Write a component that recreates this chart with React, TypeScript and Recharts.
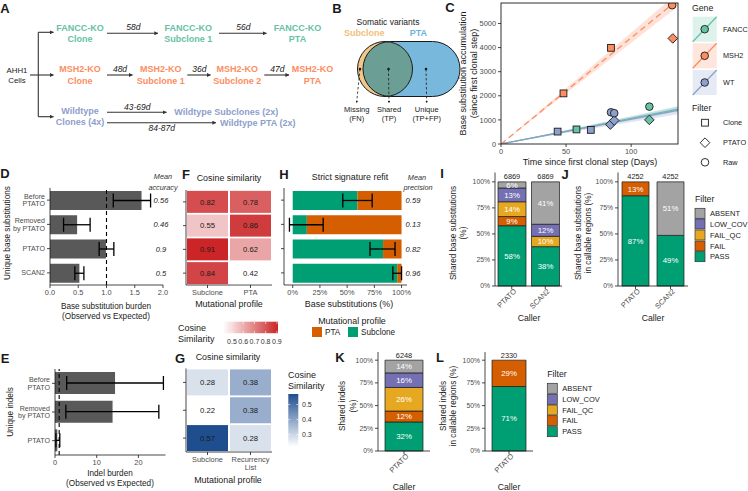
import React from 'react';
import {
  BarChart,
  Bar,
  XAxis,
  YAxis,
  ErrorBar,
  ReferenceLine,
  LabelList,
  ScatterChart,
  Scatter,
  ComposedChart,
  Line,
  Area,
} from 'recharts';

const FONT = "'Liberation Sans', Arial, Helvetica, sans-serif";

// ---------- C: base substitution accumulation ----------
const msh2Clone = [{ day: 48, subs: 2100 }, { day: 84.5, subs: 3990 }];
const msh2Ptato = [{ day: 132, subs: 4380 }];
const msh2Raw = [{ day: 131.5, subs: 5760 }];
const fanccClone = [{ day: 58, subs: 605 }];
const fanccPtato = [{ day: 114, subs: 1000 }];
const fanccRaw = [{ day: 114, subs: 1550 }];
const wtClone = [{ day: 43.5, subs: 515 }, { day: 69, subs: 585 }];
const wtPtato = [{ day: 84, subs: 805 }, { day: 87, subs: 975 }];
const wtRaw = [{ day: 84.5, subs: 1315 }, { day: 87, subs: 1280 }];
const msh2Fit = [{ day: 0, subs: 0 }, { day: 136, subs: 5990 }];
const msh2Ribbon = [{ day: 0, band: [0, 0] }, { day: 136, band: [5700, 6280] }];
const fanccFit = [{ day: 0, subs: 0 }, { day: 136, subs: 1450 }];
const fanccRibbon = [{ day: 0, band: [0, 0] }, { day: 136, band: [1340, 1560] }];
const wtFit = [{ day: 0, subs: 0 }, { day: 136, subs: 1400 }];
const wtRibbon = [{ day: 0, band: [0, 0] }, { day: 136, band: [1230, 1570] }];

// ---------- D: base substitution burden ----------
const snvCategories = ['Before\nPTATO', 'Removed\nby PTATO', 'PTATO', 'SCAN2'];
const snvBurden = [1.62, 0.48, 0.99, 0.52];
const snvLow = [1.12, 0.24, 0.87, 0.44];
const snvHigh = [1.78, 0.71, 1.13, 0.6];
const snvAccuracy = ['0.56', '0.46', '0.9', '0.5'];

// ---------- E: indel burden ----------
const indelCategories = ['Before\nPTATO', 'Removed\nby PTATO', 'PTATO'];
const indelBurden = [14.4, 13.8, 0.55];
const indelLow = [2.8, 2.6, 0.2];
const indelHigh = [26.0, 24.9, 1.15];

// ---------- F / G: cosine similarity ----------
const fProfiles = ['Subclone', 'PTA'];
const fSubclone = [0.82, 0.55, 0.91, 0.84];
const fPta = [0.78, 0.86, 0.62, 0.42];
const gProfiles = ['Subclone', 'Recurrency\nList'];
const gSubclone = [0.28, 0.22, 0.57];
const gRecurrency = [0.38, 0.38, 0.28];

// ---------- H: strict signature refit ----------
const refitSubclone = [0.595, 0.13, 0.83, 0.96];
const refitPta = [0.405, 0.87, 0.17, 0.04];
const refitLow = [0.46, -0.03, 0.71, 0.92];
const refitHigh = [0.73, 0.28, 0.94, 1.0];
const refitPrecision = ['0.59', '0.13', '0.82', '0.96'];

// ---------- I-L: shared variants by filter ----------
const callers = ['PTATO', 'SCAN2'];
const subsPass = [0.579, 0.378];
const subsFail = [0.088, 0];
const subsFailQc = [0.142, 0.099];
const subsLowCov = [0.132, 0.116];
const subsAbsent = [0.059, 0.407];
const subsTotal = [6869, 6869];
const callSubsPass = [0.867, 0.486];
const callSubsFail = [0.133, 0];
const callSubsAbsent = [0, 0.514];
const callSubsTotal = [4252, 4252];
const indelCallers = ['PTATO'];
const indelPass = [0.32];
const indelFail = [0.12];
const indelFailQc = [0.26];
const indelLowCov = [0.16];
const indelAbsent = [0.14];
const indelTotal = [6248];
const callIndelPass = [0.71];
const callIndelFail = [0.29];
const callIndelTotal = [2330];

const FILTER_KEYS = ['PASS', 'FAIL', 'FAIL_QC', 'LOW_COV', 'ABSENT'];
const FILTER_COLORS: Record<string, string> = {
  PASS: '#009E73',
  FAIL: '#D55E00',
  FAIL_QC: '#E6A820',
  LOW_COV: '#7570B3',
  ABSENT: '#A3A3A3',
};
const FANCC = '#66c2a5';
const MSH2 = '#fc8d62';
const WT = '#8da0cb';

const TICK = { fontSize: 7.4, fill: '#4d4d4d' };
const AXIS = { stroke: '#1a1a1a', strokeWidth: 0.8 };

const clamp = (t: number) => Math.max(0, Math.min(1, t));
const mix = (a: number[], b: number[], t: number) =>
  `rgb(${a.map((v, i) => Math.round(v + (b[i] - v) * t)).join(',')})`;
const redScale = (v: number) => mix([255, 255, 255], [203, 37, 39], clamp((v - 0.42) / 0.49));
const blueScale = (v: number) => mix([255, 255, 255], [31, 78, 143], clamp((v - 0.22) / 0.35));

// ---------- rows built from the arrays ----------
const snvRows = snvCategories.map((name, i) => ({
  name,
  value: snvBurden[i],
  err: [snvBurden[i] - snvLow[i], snvHigh[i] - snvBurden[i]],
  acc: snvAccuracy[i],
}));
const indelRows = indelCategories.map((name, i) => ({
  name,
  value: indelBurden[i],
  err: [indelBurden[i] - indelLow[i], indelHigh[i] - indelBurden[i]],
}));
const refitRows = snvCategories.map((name, i) => ({
  name,
  Subclone: refitSubclone[i],
  PTA: refitPta[i],
  err: [refitSubclone[i] - refitLow[i], refitHigh[i] - refitSubclone[i]],
  prec: refitPrecision[i],
}));
const fCells = fSubclone.flatMap((v, r) => [
  { col: 0, row: r, value: v },
  { col: 1, row: r, value: fPta[r] },
]);
const gCells = gSubclone.flatMap((v, r) => [
  { col: 0, row: r, value: v },
  { col: 1, row: r, value: gRecurrency[r] },
]);
const iRows = callers.map((caller, i) => ({
  caller,
  PASS: subsPass[i],
  FAIL: subsFail[i],
  FAIL_QC: subsFailQc[i],
  LOW_COV: subsLowCov[i],
  ABSENT: subsAbsent[i],
  total: subsTotal[i],
}));
const jRows = callers.map((caller, i) => ({
  caller,
  PASS: callSubsPass[i],
  FAIL: callSubsFail[i],
  FAIL_QC: 0,
  LOW_COV: 0,
  ABSENT: callSubsAbsent[i],
  total: callSubsTotal[i],
}));
const kRows = indelCallers.map((caller, i) => ({
  caller,
  PASS: indelPass[i],
  FAIL: indelFail[i],
  FAIL_QC: indelFailQc[i],
  LOW_COV: indelLowCov[i],
  ABSENT: indelAbsent[i],
  total: indelTotal[i],
}));
const lRows = indelCallers.map((caller, i) => ({
  caller,
  PASS: callIndelPass[i],
  FAIL: callIndelFail[i],
  FAIL_QC: 0,
  LOW_COV: 0,
  ABSENT: 0,
  total: callIndelTotal[i],
}));

// ---------- small render helpers ----------
const CatTick = (props: any) => {
  const { x, y, payload } = props;
  const lines = String(payload.value).split('\n');
  const lh = 7.6;
  const y0 = y - ((lines.length - 1) * lh) / 2;
  return (
    <text x={x} y={y0} textAnchor="end" fontSize={7.1} fill="#4d4d4d">
      {lines.map((l, i) => (
        <tspan key={i} x={x} dy={i === 0 ? '0.35em' : lh}>
          {l}
        </tspan>
      ))}
    </text>
  );
};

const RotTick = (props: any) => {
  const { x, y, payload } = props;
  return (
    <text x={x} y={y} transform={`rotate(-45 ${x} ${y})`} textAnchor="end" dy="0.55em" dx={3} fontSize={7.4} fill="#4d4d4d">
      {payload.value}
    </text>
  );
};

const heatTick = (labels: string[]) => (props: any) => {
  const { x, y, payload } = props;
  const lines = labels[payload.value].split('\n');
  return (
    <text x={x} y={y} textAnchor="middle" fontSize={7.4} fill="#4d4d4d">
      {lines.map((l, i) => (
        <tspan key={i} x={x} dy={i === 0 ? '0.71em' : '1.1em'}>
          {l}
        </tspan>
      ))}
    </text>
  );
};

const noteLabel = (x: number) => (p: any) => (
  <text x={x} y={p.y + p.height / 2} dy="0.35em" textAnchor="middle" fontSize={7.6} fontStyle="italic" fill="#1a1a1a">
    {p.value}
  </text>
);

const pctLabel = (p: any) => {
  const { x, y, width, height, value } = p;
  if (!value || value < 0.03) return null;
  return (
    <text x={x + width / 2} y={y + height / 2} dy="0.35em" textAnchor="middle" fontSize={7.8} fill="#fff">
      {Math.round(value * 100)}%
    </text>
  );
};

// the total sits above the highest non-empty segment of each stack
const topKey = (row: any) => [...FILTER_KEYS].reverse().find((k) => row[k] > 0);
const totalFor = (key: string) => (row: any) => (topKey(row) === key ? row.total : null);
const totalLabel = (p: any) => {
  if (p.value === null || p.value === undefined || p.value === '') return null;
  return (
    <text x={p.x + p.width / 2} y={p.y - 2.5} textAnchor="middle" fontSize={7.4} fill="#1a1a1a">
      {p.value}
    </text>
  );
};

const heatShape = (w: number, h: number, colorFn: (v: number) => string) => (p: any) => {
  const { cx, cy, payload } = p;
  return (
    <g>
      <rect x={cx - w / 2} y={cy - h / 2} width={w} height={h} fill={colorFn(payload.value)} />
      <text x={cx} y={cy} dy="0.35em" textAnchor="middle" fontSize={7.7} fill="#1a1a1a">
        {payload.value.toFixed(2)}
      </text>
    </g>
  );
};

const pointShape = (kind: string, fill: string) => (p: any) => {
  const { cx, cy } = p;
  if (kind === 'square')
    return <rect x={cx - 3.4} y={cy - 3.4} width={6.8} height={6.8} fill={fill} stroke="#1a1a1a" strokeWidth={0.9} />;
  if (kind === 'diamond')
    return (
      <polygon
        points={`${cx},${cy - 4.8} ${cx + 4.8},${cy} ${cx},${cy + 4.8} ${cx - 4.8},${cy}`}
        fill={fill}
        stroke="#1a1a1a"
        strokeWidth={0.9}
      />
    );
  return <circle cx={cx} cy={cy} r={3.8} fill={fill} stroke="#1a1a1a" strokeWidth={0.9} />;
};

const pct = (v: number) => `${Math.round(v * 100)}%`;

const Pos: React.FC<{ x: number; y: number; children: React.ReactNode }> = ({ x, y, children }) => (
  <div style={{ position: 'absolute', left: x, top: y }}>{children}</div>
);

// ---------- charts ----------
const AccumulationChart = () => (
  <ComposedChart width={245} height={170} margin={{ top: 3, right: 7, bottom: 6, left: 0 }}>
    <XAxis type="number" dataKey="day" domain={[0, 136]} ticks={[0, 50, 100]} height={20} allowDataOverflow tick={TICK} tickSize={3} axisLine={false} tickLine={AXIS} />
    <YAxis type="number" dataKey="subs" domain={[0, 5850]} ticks={[0, 1000, 2000, 3000, 4000, 5000]} width={61} allowDataOverflow tick={TICK} tickSize={3} axisLine={false} tickLine={AXIS} />
    <Area data={wtRibbon} dataKey="band" type="linear" stroke="none" fill={WT} fillOpacity={0.28} isAnimationActive={false} />
    <Area data={fanccRibbon} dataKey="band" type="linear" stroke="none" fill={FANCC} fillOpacity={0.2} isAnimationActive={false} />
    <Area data={msh2Ribbon} dataKey="band" type="linear" stroke="none" fill={MSH2} fillOpacity={0.25} isAnimationActive={false} />
    <Line data={fanccFit} dataKey="subs" type="linear" stroke={FANCC} strokeWidth={1.3} dot={false} isAnimationActive={false} />
    <Line data={wtFit} dataKey="subs" type="linear" stroke={WT} strokeWidth={1.3} dot={false} isAnimationActive={false} />
    <Line data={msh2Fit} dataKey="subs" type="linear" stroke={MSH2} strokeWidth={1.3} strokeDasharray="6 4" dot={false} isAnimationActive={false} />
    <Scatter data={wtClone} dataKey="subs" shape={pointShape('square', WT)} isAnimationActive={false} />
    <Scatter data={wtPtato} dataKey="subs" shape={pointShape('diamond', WT)} isAnimationActive={false} />
    <Scatter data={wtRaw} dataKey="subs" shape={pointShape('circle', WT)} isAnimationActive={false} />
    <Scatter data={fanccClone} dataKey="subs" shape={pointShape('square', FANCC)} isAnimationActive={false} />
    <Scatter data={fanccPtato} dataKey="subs" shape={pointShape('diamond', FANCC)} isAnimationActive={false} />
    <Scatter data={fanccRaw} dataKey="subs" shape={pointShape('circle', FANCC)} isAnimationActive={false} />
    <Scatter data={msh2Clone} dataKey="subs" shape={pointShape('square', MSH2)} isAnimationActive={false} />
    <Scatter data={msh2Ptato} dataKey="subs" shape={pointShape('diamond', MSH2)} isAnimationActive={false} />
    <Scatter data={msh2Raw} dataKey="subs" shape={pointShape('circle', MSH2)} isAnimationActive={false} />
  </ComposedChart>
);

const BurdenChart = () => (
  <BarChart width={180} height={150} data={snvRows} layout="vertical" margin={{ top: 18, right: 17, bottom: 5, left: 0 }}>
    <XAxis type="number" domain={[0, 2]} ticks={[0, 0.5, 1, 1.5, 2]} tickFormatter={(v: number) => v.toFixed(1)} height={30} tick={TICK} tickSize={3} axisLine={AXIS} tickLine={AXIS} />
    <YAxis type="category" dataKey="name" width={50} tick={<CatTick />} tickSize={3} interval={0} axisLine={AXIS} tickLine={AXIS} />
    <Bar dataKey="value" fill="#595959" barSize={19} isAnimationActive={false}>
      <ErrorBar dataKey="err" direction="x" width={7} stroke="#000" strokeWidth={1.3} />
      <LabelList dataKey="acc" content={noteLabel(161)} />
    </Bar>
    <ReferenceLine x={1} stroke="#000" strokeDasharray="4 3" strokeWidth={1.1} />
  </BarChart>
);

const IndelChart = () => (
  <BarChart width={180} height={131} data={indelRows} layout="vertical" margin={{ top: 9, right: 14.5, bottom: 6, left: 0 }}>
    <XAxis type="number" domain={[0, 26.5]} ticks={[0, 10, 20]} height={30} tick={TICK} tickSize={3} axisLine={AXIS} tickLine={AXIS} />
    <YAxis type="category" dataKey="name" width={55} tick={<CatTick />} tickSize={3} interval={0} axisLine={AXIS} tickLine={AXIS} />
    <Bar dataKey="value" fill="#595959" barSize={22} isAnimationActive={false}>
      <ErrorBar dataKey="err" direction="x" width={7} stroke="#000" strokeWidth={1.3} />
    </Bar>
    <ReferenceLine x={1} stroke="#000" strokeDasharray="4 3" strokeWidth={1.1} />
  </BarChart>
);

const HeatChart = ({ cells, labels, rows, height, top, bottom, cellH, colorFn }: any) => (
  <ScatterChart width={100} height={height} margin={{ top, right: 4, bottom, left: 0 }}>
    <XAxis type="number" dataKey="col" domain={[-0.5, 1.5]} ticks={[0, 1]} interval={0} height={30} tick={heatTick(labels)} tickSize={3} axisLine={AXIS} tickLine={AXIS} />
    <YAxis type="number" dataKey="row" domain={[-0.5, rows - 0.5]} ticks={Array.from({ length: rows }, (_, i) => i)} reversed width={10} tickFormatter={() => ''} tickSize={3} interval={0} axisLine={AXIS} tickLine={AXIS} />
    <Scatter data={cells} shape={heatShape(41, cellH, colorFn)} isAnimationActive={false} />
  </ScatterChart>
);

const RefitChart = () => (
  <BarChart width={165} height={150} data={refitRows} layout="vertical" margin={{ top: 18, right: 28, bottom: 5, left: 0 }}>
    <XAxis type="number" domain={[-0.08, 1.05]} ticks={[0, 0.25, 0.5, 0.75, 1]} tickFormatter={pct} height={30} tick={TICK} tickSize={3} axisLine={AXIS} tickLine={AXIS} />
    <YAxis type="category" dataKey="name" width={14} tickFormatter={() => ''} tickSize={3} interval={0} axisLine={AXIS} tickLine={AXIS} />
    <Bar dataKey="Subclone" stackId="r" fill="#009E73" barSize={19} isAnimationActive={false}>
      <ErrorBar dataKey="err" direction="x" width={7} stroke="#000" strokeWidth={1.3} />
    </Bar>
    <Bar dataKey="PTA" stackId="r" fill="#D55E00" barSize={19} isAnimationActive={false}>
      <LabelList dataKey="prec" content={noteLabel(143)} />
    </Bar>
  </BarChart>
);

const FilterChart = ({ rows, width, height, margin, yWidth, barSize }: any) => (
  <BarChart width={width} height={height} data={rows} margin={margin}>
    <XAxis type="category" dataKey="caller" height={35} tick={<RotTick />} tickSize={3} interval={0} axisLine={AXIS} tickLine={AXIS} />
    <YAxis type="number" domain={[0, 1.09]} ticks={[0, 0.25, 0.5, 0.75, 1]} tickFormatter={pct} width={yWidth} tick={{ ...TICK, fontSize: 6.8 }} tickSize={3} axisLine={AXIS} tickLine={AXIS} />
    {FILTER_KEYS.map((k) => (
      <Bar key={k} dataKey={k} stackId="s" fill={FILTER_COLORS[k]} stroke="#1a1a1a" strokeWidth={0.7} barSize={barSize} isAnimationActive={false}>
        <LabelList dataKey={k} content={pctLabel} />
        <LabelList dataKey={totalFor(k)} content={totalLabel} />
      </Bar>
    ))}
  </BarChart>
);

// ---------- static annotations ----------
const T = ({ x, y, s = 8, a = 'middle', b, it, fill = '#1a1a1a', rot, children }: any) => (
  <text
    x={x}
    y={y}
    dy="0.35em"
    fontSize={s}
    textAnchor={a}
    fontWeight={b ? 'bold' : undefined}
    fontStyle={it ? 'italic' : undefined}
    fill={fill}
    transform={rot ? `rotate(${rot} ${x} ${y})` : undefined}
  >
    {children}
  </text>
);

const Arrow = ({ x1, y1, x2, y2 }: any) => (
  <line x1={x1} y1={y1} x2={x2} y2={y2} stroke="#333" strokeWidth={1.1} markerEnd="url(#ah)" />
);

const FilterLegend = ({ x, y, ys }: any) => (
  <g>
    <T x={x} y={y} s={8.7} a="start">Filter</T>
    {['ABSENT', 'LOW_COV', 'FAIL_QC', 'FAIL', 'PASS'].map((k, i) => (
      <g key={k}>
        <rect x={x} y={ys[i] - 5} width={10} height={10} fill={FILTER_COLORS[k]} stroke="#333" strokeWidth={0.7} />
        <T x={x + 15} y={ys[i]} s={7.5} a="start">{k}</T>
      </g>
    ))}
  </g>
);

const Overlay = () => (
  <svg width={748} height={491} style={{ position: 'absolute', left: 0, top: 0, pointerEvents: 'none', fontFamily: FONT }}>
    <defs>
      <marker id="ah" viewBox="0 0 6 6" refX="5.5" refY="3" markerWidth="3.6" markerHeight="3.6" orient="auto">
        <path d="M0,0 L6,3 L0,6 z" fill="#333" />
      </marker>
      <marker id="ah2" viewBox="0 0 6 6" refX="3" refY="3" markerWidth="3" markerHeight="3" orient="auto">
        <path d="M0,0 L6,3 L0,6 z" fill="#222" />
      </marker>
      <linearGradient id="redg" x1="0" x2="1" y1="0" y2="0">
        <stop offset="0" stopColor="#ffffff" />
        <stop offset="1" stopColor="rgb(203,37,39)" />
      </linearGradient>
      <linearGradient id="blueg" x1="0" x2="0" y1="1" y2="0">
        <stop offset="0" stopColor="#ffffff" />
        <stop offset="1" stopColor="rgb(31,78,143)" />
      </linearGradient>
      <clipPath id="capsule">
        <rect x={363} y={41.5} width={97} height={55} rx={27.5} />
      </clipPath>
    </defs>

    {/* panel letters */}
    <T x={5} y={8} s={13} b>A</T>
    <T x={337} y={8} s={13} b>B</T>
    <T x={450} y={7} s={13} b>C</T>
    <T x={5} y={173} s={13} b>D</T>
    <T x={5} y={358} s={13} b>E</T>
    <T x={186} y={174} s={13} b>F</T>
    <T x={180} y={358} s={13} b>G</T>
    <T x={284} y={174} s={13} b>H</T>
    <T x={442} y={173} s={13} b>I</T>
    <T x={565} y={174} s={13} b>J</T>
    <T x={340} y={357} s={13} b>K</T>
    <T x={440} y={357} s={13} b>L</T>

    {/* A: experimental design */}
    <T x={17} y={70} s={7.8}>AHH1</T>
    <T x={17} y={80.5} s={7.8}>Cells</T>
    <line x1={38.3} y1={32.3} x2={38.3} y2={116.7} stroke="#333" strokeWidth={1.1} />
    <Arrow x1={30} y1={75} x2={53.5} y2={75} />
    <Arrow x1={38.3} y1={32.3} x2={53.5} y2={32.3} />
    <Arrow x1={38.3} y1={116.7} x2={53.5} y2={116.7} />
    <T x={80} y={27.7} s={9} b fill={FANCC}>FANCC-KO</T>
    <T x={80} y={39} s={9} b fill={FANCC}>Clone</T>
    <Arrow x1={107} y1={33.3} x2={158} y2={33.3} />
    <T x={133.3} y={26.7} s={8.5} it>58d</T>
    <T x={188.3} y={27.7} s={9} b fill={FANCC}>FANCC-KO</T>
    <T x={188.3} y={39} s={9} b fill={FANCC}>Subclone 1</T>
    <Arrow x1={219} y1={33.3} x2={266.5} y2={33.3} />
    <T x={243.3} y={26.7} s={8.5} it>56d</T>
    <T x={297.5} y={27.7} s={9} b fill={FANCC}>FANCC-KO</T>
    <T x={297.5} y={39} s={9} b fill={FANCC}>PTA</T>

    <T x={80} y={69.3} s={9} b fill={MSH2}>MSH2-KO</T>
    <T x={80} y={80.7} s={9} b fill={MSH2}>Clone</T>
    <Arrow x1={107} y1={75} x2={132.5} y2={75} />
    <T x={120} y={69.5} s={8.5} it>48d</T>
    <T x={160.7} y={69.3} s={9} b fill={MSH2}>MSH2-KO</T>
    <T x={160.7} y={80.7} s={9} b fill={MSH2}>Subclone 1</T>
    <Arrow x1={187.3} y1={75} x2={210.5} y2={75} />
    <T x={199.3} y={69.5} s={8.5} it>36d</T>
    <T x={237.3} y={69.3} s={9} b fill={MSH2}>MSH2-KO</T>
    <T x={237.3} y={80.7} s={9} b fill={MSH2}>Subclone 2</T>
    <Arrow x1={264.3} y1={75} x2={289} y2={75} />
    <T x={277.3} y={69.5} s={8.5} it>47d</T>
    <T x={312.5} y={69.3} s={9} b fill={MSH2}>MSH2-KO</T>
    <T x={312.5} y={80.7} s={9} b fill={MSH2}>PTA</T>

    <T x={80} y={110.7} s={9} b fill={WT}>Wildtype</T>
    <T x={80} y={121.7} s={9} b fill={WT}>Clones (4x)</T>
    <Arrow x1={107} y1={112.3} x2={166.5} y2={112.3} />
    <T x={137.3} y={107.5} s={8.5} it>43-69d</T>
    <T x={174.3} y={111.7} s={9} b a="start" fill={WT}>Wildtype Subclones (2x)</T>
    <Arrow x1={107} y1={122.7} x2={216} y2={122.7} />
    <T x={161.7} y={128} s={8.5} it>84-87d</T>
    <T x={220} y={122.7} s={9} b a="start" fill={WT}>Wildtype PTA (2x)</T>

    {/* B: venn of somatic variants */}
    <T x={388} y={21.7} s={8.5}>Somatic variants</T>
    <T x={364.3} y={33.3} s={9} b fill="#f2c07a">Subclone</T>
    <T x={418.3} y={33.3} s={9} b fill="#6eb3dc">PTA</T>
    <rect x={363} y={41.5} width={97} height={55} rx={27.5} fill="#79b8dd" />
    <circle cx={385} cy={69} r={27.5} fill="#f1c88a" />
    <circle cx={385} cy={69} r={27.5} fill="#6b9f96" clipPath="url(#capsule)" />
    <circle cx={385} cy={69} r={27.5} fill="none" stroke="#1a1a1a" strokeWidth={1} />
    <rect x={363} y={41.5} width={97} height={55} rx={27.5} fill="none" stroke="#1a1a1a" strokeWidth={1} />
    {[
      [360, 356.7, 'Missing', '(FN)'],
      [388.5, 389, 'Shared', '(TP)'],
      [426, 426.7, 'Unique', '(TP+FP)'],
    ].map(([dx, lx, l1, l2]: any) => (
      <g key={l1}>
        <circle cx={dx} cy={69} r={1.3} fill="#1a1a1a" />
        <line x1={dx} y1={69} x2={lx} y2={102} stroke="#1a1a1a" strokeWidth={0.8} strokeDasharray="2.5 2" markerEnd="url(#ah2)" />
        <T x={lx} y={109.3} s={7.5}>{l1}</T>
        <T x={lx} y={118.5} s={7.5}>{l2}</T>
      </g>
    ))}

    {/* C: frame, titles, legend */}
    <rect x={501} y={3} width={177} height={141} fill="none" stroke="#1a1a1a" strokeWidth={0.9} />
    <T x={463.3} y={73.5} s={9} rot={-90}>Base substitution accumulation</T>
    <T x={473.5} y={73.5} s={9} rot={-90}>(since first clonal step)</T>
    <T x={590} y={161.7} s={9}>Time since first clonal step (Days)</T>
    <T x={692} y={7.5} s={8.7} a="start">Gene</T>
    {[
      [FANCC, 16.7, 'FANCC'],
      [MSH2, 43.3, 'MSH2'],
      [WT, 70, 'WT'],
    ].map(([c, y, l]: any) => (
      <g key={l}>
        <rect x={692.7} y={y} width={24} height={25} fill={c} fillOpacity={0.22} />
        <line x1={692.7} y1={y + 25} x2={716.7} y2={y} stroke={c} strokeWidth={1.3} />
        <circle cx={704.7} cy={y + 12.5} r={3.8} fill={c} stroke="#1a1a1a" strokeWidth={0.9} />
        <T x={723} y={y + 12.5} s={7.3} a="start">{l}</T>
      </g>
    ))}
    <T x={692} y={108.3} s={8.7} a="start">Filter</T>
    <rect x={701.6} y={119.3} width={6.8} height={6.8} fill="#fff" stroke="#1a1a1a" strokeWidth={0.9} />
    <polygon points="705,137.9 709.8,142.7 705,147.5 700.2,142.7" fill="#fff" stroke="#1a1a1a" strokeWidth={0.9} />
    <circle cx={705} cy={162.3} r={3.8} fill="#fff" stroke="#1a1a1a" strokeWidth={0.9} />
    <T x={723} y={122.7} s={7.3} a="start">Clone</T>
    <T x={723} y={142.7} s={7.3} a="start">PTATO</T>
    <T x={723} y={162.3} s={7.3} a="start">Raw</T>

    {/* D / E titles */}
    <T x={7.5} y={233} s={8.2} rot={-90}>Unique base substitutions</T>
    <T x={106} y={306} s={8.2}>Base substitution burden</T>
    <T x={106} y={316} s={8.2}>(Observed vs Expected)</T>
    <T x={163} y={176.7} s={7.3} it fill="#333">Mean</T>
    <T x={163} y={187.3} s={7.3} it fill="#333">accuracy</T>
    <T x={10.5} y={412} s={8.2} rot={-90}>Unique indels</T>
    <T x={110} y={473.3} s={8.2}>Indel burden</T>
    <T x={110} y={483.3} s={8.2}>(Observed vs Expected)</T>

    {/* F */}
    <T x={229} y={178.3} s={8.9}>Cosine similarity</T>
    <T x={229} y={304.3} s={8.9}>Mutational profile</T>
    <T x={178} y={328.3} s={9} a="start">Cosine</T>
    <T x={178} y={339} s={9} a="start">Similarity</T>
    <rect x={223} y={321.7} width={55} height={11.5} fill="url(#redg)" />
    {[0.5, 0.6, 0.7, 0.8, 0.9].map((v) => {
      const x = 223 + ((v - 0.42) / 0.49) * 55;
      return (
        <g key={v}>
          <line x1={x} y1={321.7} x2={x} y2={324} stroke="#fff" strokeWidth={0.6} />
          <line x1={x} y1={330.9} x2={x} y2={333.2} stroke="#fff" strokeWidth={0.6} />
          <T x={x} y={341.7} s={7} fill="#333">{v.toFixed(1)}</T>
        </g>
      );
    })}

    {/* G */}
    <T x={228} y={357} s={8.9}>Cosine similarity</T>
    <T x={228} y={479.5} s={8.9}>Mutational profile</T>
    <T x={288} y={375} s={9} a="start">Cosine</T>
    <T x={288} y={385.7} s={9} a="start">Similarity</T>
    <rect x={288.3} y={394} width={10} height={52.7} fill="url(#blueg)" />
    {[0.3, 0.4, 0.5].map((v) => {
      const y = 446.7 - ((v - 0.22) / 0.35) * 52.7;
      return (
        <g key={v}>
          <line x1={288.3} y1={y} x2={290.3} y2={y} stroke="#fff" strokeWidth={0.6} />
          <line x1={296.3} y1={y} x2={298.3} y2={y} stroke="#fff" strokeWidth={0.6} />
          <T x={302} y={y} s={7} a="start" fill="#333">{v.toFixed(1)}</T>
        </g>
      );
    })}

    {/* H */}
    <T x={350} y={177} s={8.9}>Strict signature refit</T>
    <T x={349} y={304} s={8.9}>Base substitutions (%)</T>
    <T x={417} y={177.3} s={7.3} it fill="#333">Mean</T>
    <T x={418} y={187.3} s={7.3} it fill="#333">precision</T>
    <T x={352} y={320.5} s={8.9}>Mutational profile</T>
    <rect x={312} y={327} width={10} height={10} fill="#D55E00" />
    <T x={325} y={332} s={8.2} a="start">PTA</T>
    <rect x={348} y={327} width={10} height={10} fill="#009E73" />
    <T x={361} y={332} s={8.2} a="start">Subclone</T>

    {/* I / J */}
    <T x={453.3} y={233} s={8.2} rot={-90}>Shared base substitutions</T>
    <T x={463.3} y={233} s={8.2} rot={-90}>(%)</T>
    <T x={529} y={318} s={8.7}>Caller</T>
    <T x={578.3} y={233} s={8.2} rot={-90}>Shared base substitutions</T>
    <T x={588.3} y={233} s={8.2} rot={-90}>in callable regions (%)</T>
    <T x={653} y={318} s={8.7}>Caller</T>
    <FilterLegend x={695} y={199.3} ys={[213.3, 224, 235, 246, 256.7]} />

    {/* K / L */}
    <T x={341.7} y={406} s={8.2} rot={-90}>Shared indels</T>
    <T x={353.3} y={406} s={8.2} rot={-90}>(%)</T>
    <T x={404} y={487} s={8.7}>Caller</T>
    <T x={443.3} y={406} s={8.2} rot={-90}>Shared indels</T>
    <T x={453.3} y={406} s={8.2} rot={-90}>in callable regions (%)</T>
    <T x={509} y={487} s={8.7}>Caller</T>
    <FilterLegend x={547.3} y={374} ys={[388.3, 399.3, 410, 420.7, 431.7]} />
  </svg>
);

export default function App() {
  return (
    <div style={{ position: 'absolute', left: 0, top: 0, width: 748, height: 491, background: '#fff', fontFamily: FONT, overflow: 'hidden' }}>
      <Pos x={440} y={0}>
        <AccumulationChart />
      </Pos>
      <Pos x={0} y={170}>
        <BurdenChart />
      </Pos>
      <Pos x={0} y={360}>
        <IndelChart />
      </Pos>
      <Pos x={176} y={170}>
        <HeatChart cells={fCells} labels={fProfiles} rows={4} height={150} top={20} bottom={5} cellH={22} colorFn={redScale} />
      </Pos>
      <Pos x={176} y={350}>
        <HeatChart cells={gCells} labels={gProfiles} rows={3} height={141} top={18.5} bottom={9} cellH={26} colorFn={blueScale} />
      </Pos>
      <Pos x={270} y={170}>
        <RefitChart />
      </Pos>
      <Pos x={440} y={165}>
        <FilterChart rows={iRows} width={130} height={160} margin={{ top: 7.5, right: 8, bottom: 4, left: 0 }} yWidth={55} barSize={28} />
      </Pos>
      <Pos x={560} y={165}>
        <FilterChart rows={jRows} width={135} height={160} margin={{ top: 7.5, right: 7, bottom: 4, left: 0 }} yWidth={58} barSize={27} />
      </Pos>
      <Pos x={330} y={345}>
        <FilterChart rows={kRows} width={105} height={146} margin={{ top: 7, right: 5, bottom: 5, left: 0 }} yWidth={48} barSize={38} />
      </Pos>
      <Pos x={437} y={345}>
        <FilterChart rows={lRows} width={100} height={146} margin={{ top: 7, right: 4, bottom: 5, left: 0 }} yWidth={48} barSize={34} />
      </Pos>
      <Overlay />
    </div>
  );
}
